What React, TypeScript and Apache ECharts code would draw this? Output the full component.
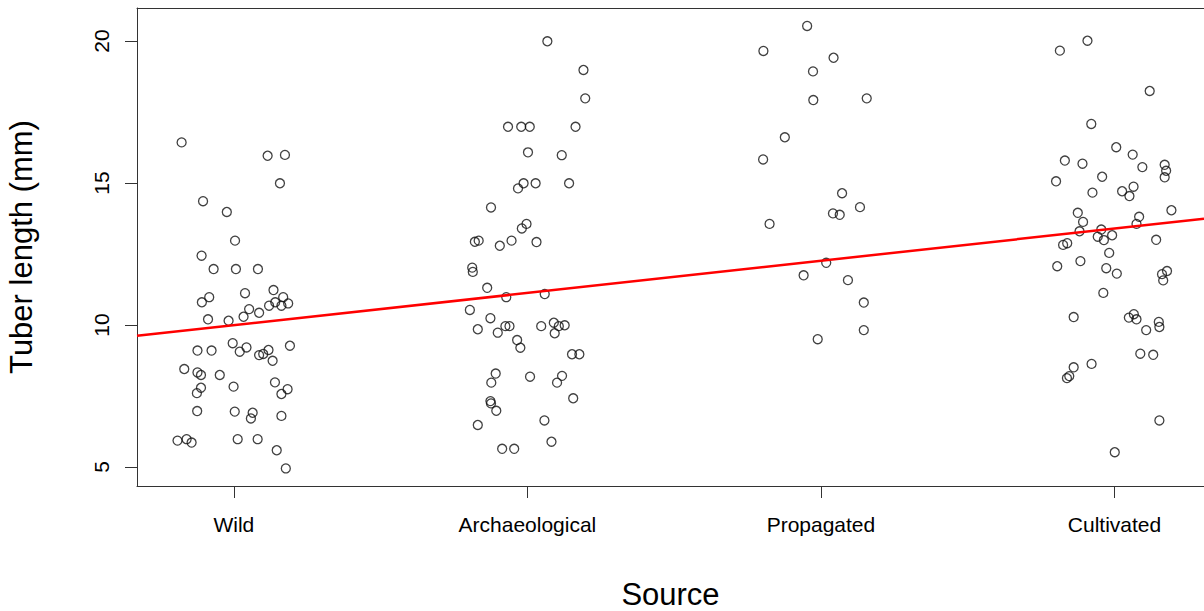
import React, { useEffect, useRef } from "react";
import * as echarts from "echarts";

const categories = ["Wild", "Archaeological", "Propagated", "Cultivated"];
const yTicks = [5, 10, 15, 20];

const wildJitter = [-0.178, 0.115, 0.174, 0.157, -0.105, -0.024, 0.004, -0.110, -0.069, 0.007, 0.082, 0.135, 0.038, -0.084, -0.109, 0.168, 0.185, 0.162, 0.141, 0.120, 0.086, 0.052, 0.033, -0.018, -0.088, -0.004, 0.043, 0.020, -0.124, -0.076, 0.086, 0.100, 0.118, 0.132, 0.191, -0.169, -0.124, -0.112, -0.048, -0.001, 0.140, 0.183, 0.162, -0.112, -0.126, -0.125, 0.003, 0.064, 0.058, 0.162, -0.192, -0.161, -0.144, 0.013, 0.081, 0.146, 0.177];
const wildLength = [16.43, 15.96, 15.99, 14.99, 14.36, 13.98, 12.97, 12.44, 11.97, 11.97, 11.97, 11.23, 11.12, 10.98, 10.80, 10.98, 10.76, 10.68, 10.80, 10.68, 10.43, 10.56, 10.29, 10.15, 10.20, 9.36, 9.21, 9.06, 9.10, 9.10, 8.94, 8.98, 9.12, 8.74, 9.27, 8.45, 8.33, 8.24, 8.24, 7.83, 7.98, 7.74, 7.57, 7.79, 7.60, 6.97, 6.95, 6.91, 6.71, 6.80, 5.93, 5.98, 5.86, 5.98, 5.98, 5.59, 4.95];

const archJitter = [0.068, 0.191, 0.197, -0.066, -0.021, 0.008, 0.164, 0.002, 0.117, -0.032, -0.013, 0.028, 0.142, -0.124, -0.003, -0.019, -0.179, -0.166, -0.094, -0.054, 0.031, -0.188, -0.186, -0.137, -0.072, 0.059, -0.196, -0.126, -0.169, -0.101, -0.075, -0.061, 0.047, 0.090, 0.107, 0.127, 0.093, -0.035, -0.024, 0.152, 0.177, -0.108, -0.123, 0.009, 0.118, 0.101, 0.156, -0.126, -0.124, -0.106, -0.169, 0.058, 0.082, -0.086, -0.045];
const archLength = [19.99, 18.98, 17.98, 16.98, 16.98, 16.98, 16.98, 16.08, 15.98, 14.81, 14.99, 14.99, 14.99, 14.14, 13.56, 13.40, 12.93, 12.97, 12.79, 12.97, 12.92, 12.02, 11.87, 11.31, 10.98, 11.09, 10.53, 10.24, 9.85, 9.73, 9.96, 9.96, 9.96, 10.08, 9.96, 9.99, 9.71, 9.47, 9.20, 8.97, 8.97, 8.29, 7.97, 8.18, 8.21, 7.97, 7.42, 7.32, 7.24, 6.98, 6.48, 6.64, 5.89, 5.64, 5.64];

const propJitter = [-0.047, -0.196, 0.043, -0.027, -0.026, 0.156, -0.123, -0.197, 0.072, 0.041, 0.064, 0.133, -0.175, 0.018, -0.059, 0.092, 0.146, 0.146, -0.011];
const propLength = [20.53, 19.65, 19.41, 18.93, 17.92, 17.98, 16.61, 15.83, 14.64, 13.93, 13.88, 14.15, 13.56, 12.19, 11.75, 11.58, 10.79, 9.82, 9.50];

const cultJitter = [-0.186, -0.092, 0.120, -0.079, 0.006, 0.062, 0.095, 0.171, 0.176, 0.171, -0.169, -0.109, -0.042, -0.199, -0.075, 0.026, 0.065, 0.051, 0.194, -0.125, -0.107, 0.084, 0.075, -0.119, -0.045, -0.057, -0.036, -0.008, 0.142, -0.175, -0.161, -0.018, -0.116, -0.195, -0.028, 0.008, 0.162, 0.179, 0.166, -0.038, -0.139, 0.066, 0.049, 0.075, 0.151, 0.153, 0.108, 0.088, 0.132, -0.078, -0.139, -0.154, -0.162, 0.153, 0.001];
const cultLength = [19.66, 20.01, 18.24, 17.08, 16.26, 16.00, 15.56, 15.64, 15.43, 15.20, 15.79, 15.68, 15.22, 15.06, 14.66, 14.71, 14.87, 14.54, 14.04, 13.95, 13.63, 13.81, 13.56, 13.30, 13.36, 13.11, 12.99, 13.16, 13.00, 12.82, 12.88, 12.54, 12.25, 12.07, 12.00, 11.81, 11.79, 11.90, 11.57, 11.13, 10.28, 10.38, 10.26, 10.20, 10.11, 9.93, 9.82, 8.99, 8.95, 8.63, 8.51, 8.20, 8.13, 6.64, 5.52];

const fitIntercept = 8.86;
const fitSlope = 1.134;

// visible x-range (plot box is cut at the right edge of the picture)
const X_MIN = 0.67;
const X_MAX = 4.305;
const Y_MIN = 4.331;
const Y_MAX = 21.162;

const FONT = "'Liberation Sans', Arial, Helvetica, sans-serif";
const FRAME = "#333";

export default function App() {
  const ref = useRef<HTMLDivElement>(null);
  useEffect(() => {
    if (!ref.current) return;
    const chart = echarts.init(ref.current, null, { renderer: "svg" });
    const groups = [
      [wildJitter, wildLength],
      [archJitter, archLength],
      [propJitter, propLength],
      [cultJitter, cultLength],
    ];
    const points: number[][] = [];
    groups.forEach(([jit, vals], gi) => {
      vals.forEach((v, i) => points.push([gi + 1 + jit[i], v]));
    });
    const fitLine = [
      [X_MIN, fitIntercept + fitSlope * X_MIN],
      [X_MAX, fitIntercept + fitSlope * X_MAX],
    ];
    chart.setOption({
      animation: false,
      backgroundColor: "#ffffff",
      textStyle: { fontFamily: FONT },
      grid: {
        show: false,
        left: 137,
        top: 8,
        right: 0,
        height: 478,
        containLabel: false,
        outerBoundsMode: "none",
      },
      xAxis: [
        {
          type: "value",
          position: "bottom",
          min: X_MIN,
          max: X_MAX,
          splitLine: { show: false },
          axisLine: { show: true, onZero: false, lineStyle: { color: FRAME, width: 1 } },
          axisTick: {
            show: true,
            customValues: [1, 2, 3, 4],
            length: 12,
            lineStyle: { color: FRAME, width: 1 },
          },
          axisLabel: {
            customValues: [1, 2, 3, 4],
            formatter: (v: number) => categories[Math.round(v) - 1],
            margin: 28,
            fontSize: 21,
            color: "#000",
            fontFamily: FONT,
          },
          name: "Source",
          nameLocation: "middle",
          nameGap: 93,
          nameTextStyle: { fontSize: 31, color: "#000", fontFamily: FONT },
        },
        {
          type: "value",
          position: "top",
          min: X_MIN,
          max: X_MAX,
          splitLine: { show: false },
          axisLine: { show: true, onZero: false, lineStyle: { color: FRAME, width: 1 } },
          axisTick: { show: false },
          axisLabel: { show: false },
        },
      ],
      yAxis: {
        type: "value",
        min: Y_MIN,
        max: Y_MAX,
        splitLine: { show: false },
        axisLine: { show: true, onZero: false, lineStyle: { color: FRAME, width: 1 } },
        axisTick: {
          show: true,
          customValues: yTicks,
          length: 12,
          lineStyle: { color: FRAME, width: 1 },
        },
        axisLabel: {
          customValues: yTicks,
          rotate: 90,
          margin: 25,
          fontSize: 21,
          color: "#000",
          fontFamily: FONT,
        },
        name: "Tuber length (mm)",
        nameLocation: "middle",
        nameGap: 100,
        nameRotate: 90,
        nameTextStyle: { fontSize: 31, color: "#000", fontFamily: FONT },
      },
      series: [
        {
          type: "scatter",
          data: points,
          symbol: "circle",
          symbolSize: 9,
          itemStyle: { color: "rgba(0,0,0,0)", borderColor: "#111", borderWidth: 1.3 },
          silent: true,
        },
        {
          type: "line",
          data: fitLine,
          symbol: "none",
          lineStyle: { color: "#ff0000", width: 2.5 },
          silent: true,
        },
      ],
    });
    return () => chart.dispose();
  }, []);
  return (
    <div
      ref={ref}
      style={{ position: "absolute", left: 0, top: 0, width: 1204, height: 611, background: "#fff" }}
    />
  );
}
